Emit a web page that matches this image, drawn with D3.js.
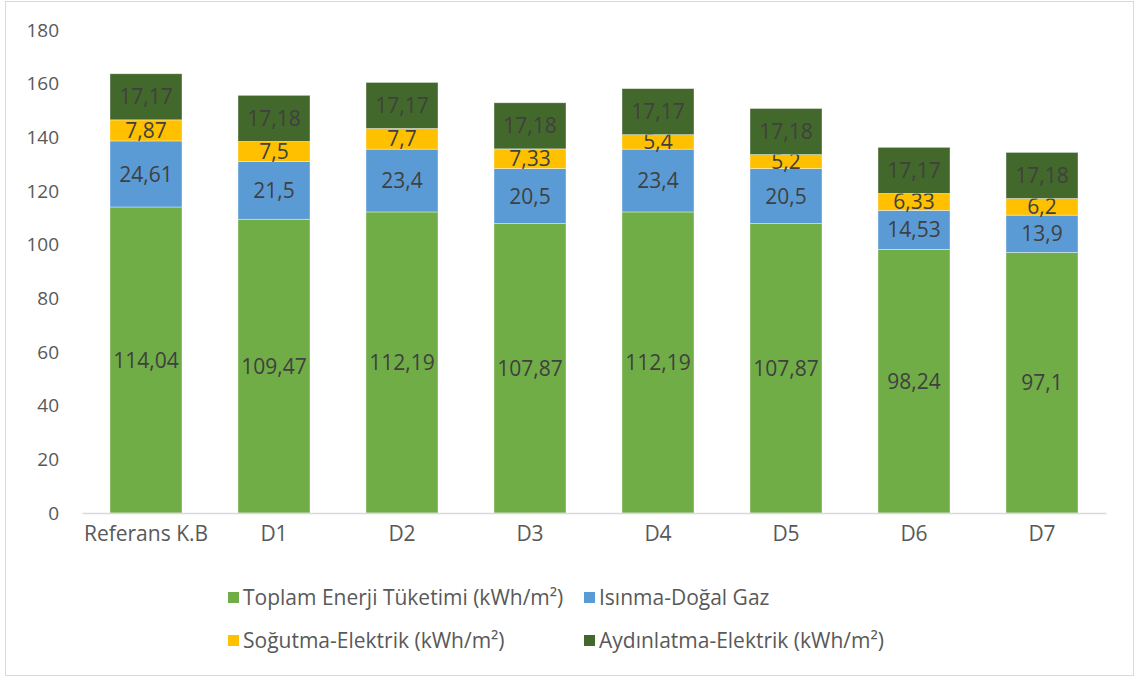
<!DOCTYPE html>
<html>
<head>
<meta charset="utf-8">
<script src="https://cdn.jsdelivr.net/npm/d3@7"></script>
<style>
  body { margin: 0; background: #fff; }
  text { font-family: "Open Sans", sans-serif; }
</style>
</head>
<body>
<div id="chart"></div>
<script>
// Stacked bar chart – energy consumption per design alternative

var categories = ["Referans K.B", "D1", "D2", "D3", "D4", "D5", "D6", "D7"];
var seriesNames = [
  "Toplam Enerji Tüketimi (kWh/m²)",
  "Isınma-Doğal Gaz",
  "Soğutma-Elektrik (kWh/m²)",
  "Aydınlatma-Elektrik (kWh/m²)"
];
var toplam     = [114.04, 109.47, 112.19, 107.87, 112.19, 107.87, 98.24, 97.1];
var isinma     = [24.61, 21.5, 23.4, 20.5, 23.4, 20.5, 14.53, 13.9];
var sogutma    = [7.87, 7.5, 7.7, 7.33, 5.4, 5.2, 6.33, 6.2];
var aydinlatma = [17.17, 17.18, 17.17, 17.18, 17.17, 17.18, 17.17, 17.18];
var yTicks = [0, 20, 40, 60, 80, 100, 120, 140, 160, 180];

var colors = ["#70ad47", "#5b9bd5", "#ffc000", "#43682b"];
var seriesValues = [toplam, isinma, sogutma, aydinlatma];

var svgWidth = 1136, svgHeight = 677;

// build rows for d3.stack
var keys = ["s0", "s1", "s2", "s3"];
var rows = categories.map(function (c, i) {
  var r = { cat: c };
  keys.forEach(function (k, j) { r[k] = seriesValues[j][i]; });
  return r;
});
var stacked = d3.stack().keys(keys)(rows);

var svg = d3.select("#chart").append("svg")
  .attr("width", svgWidth)
  .attr("height", svgHeight);

// outer border
svg.append("rect")
  .attr("x", 5.5).attr("y", 1.5)
  .attr("width", 1128).attr("height", 674)
  .attr("fill", "#fff")
  .attr("stroke", "#d9d9d9")
  .attr("stroke-width", 1);

var x = d3.scaleBand()
  .domain(categories)
  .range([82, 1106])
  .paddingInner(0.4375)
  .paddingOuter(0.21875);

var y = d3.scaleLinear().domain([0, 180]).range([513, 30]);

// y axis labels
var yAxis = svg.append("g")
  .attr("transform", "translate(68,0)")
  .call(d3.axisLeft(y).tickValues(yTicks).tickSize(0).tickPadding(9));
yAxis.select(".domain").remove();
yAxis.selectAll("text")
  .style("font-family", "'Open Sans', sans-serif")
  .style("font-size", "19px")
  .attr("fill", "#595959");

// bars
var layer = svg.selectAll(".layer")
  .data(stacked)
  .enter().append("g")
  .attr("class", "layer")
  .attr("fill", function (d, i) { return colors[i]; });

layer.selectAll("rect")
  .data(function (d) { return d; })
  .enter().append("rect")
  .attr("x", function (d) { return x(d.data.cat); })
  .attr("y", function (d) { return y(d[1]); })
  .attr("width", x.bandwidth())
  .attr("height", function (d) { return y(d[0]) - y(d[1]); })
  .attr("stroke", "#ffffff")
  .attr("stroke-opacity", 0.5)
  .attr("stroke-width", 0.75);

// data labels
layer.selectAll("text")
  .data(function (d) { return d; })
  .enter().append("text")
  .attr("x", function (d) { return x(d.data.cat) + x.bandwidth() / 2; })
  .attr("y", function (d) { return (y(d[0]) + y(d[1])) / 2; })
  .attr("dy", "0.36em")
  .attr("text-anchor", "middle")
  .attr("fill", "#404040")
  .style("font-size", "21px")
  .text(function (d) { return String(+(d[1] - d[0]).toFixed(2)).replace(".", ","); });

// x axis
var xAxis = svg.append("g")
  .attr("transform", "translate(0,513)")
  .call(d3.axisBottom(x).tickSize(0).tickPadding(13));
xAxis.select(".domain").attr("stroke", "#d9d9d9").attr("stroke-width", 1.3);
xAxis.selectAll("text")
  .style("font-family", "'Open Sans', sans-serif")
  .style("font-size", "21px")
  .attr("fill", "#595959");

// legend (2 x 2 grid)
var legendCols = [228, 584];
var legendRows = [598, 641];
seriesNames.forEach(function (name, i) {
  var col = i % 2, row = Math.floor(i / 2);
  var g = svg.append("g")
    .attr("transform", "translate(" + legendCols[col] + "," + legendRows[row] + ")");
  g.append("rect")
    .attr("x", 0).attr("y", -6)
    .attr("width", 11).attr("height", 11)
    .attr("fill", colors[i]);
  g.append("text")
    .attr("x", 15).attr("y", 0)
    .attr("dy", "0.35em")
    .attr("fill", "#595959")
    .style("font-size", "21px")
    .text(name);
});
</script>
</body>
</html>
